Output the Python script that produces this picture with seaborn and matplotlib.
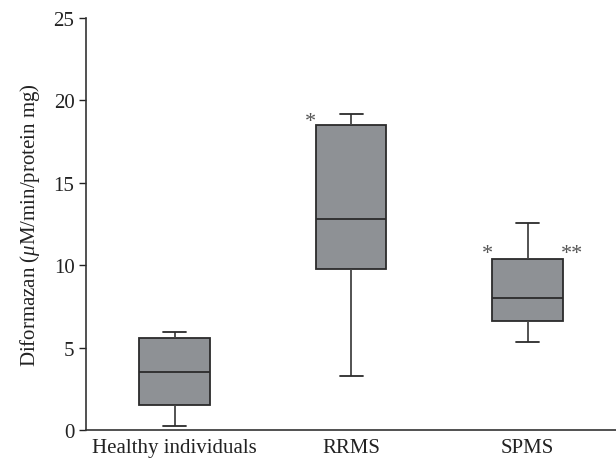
import numpy as np
import pandas as pd
import matplotlib
matplotlib.use('Agg')
import matplotlib.pyplot as plt
import seaborn as sns

# Five-number summaries (whisker low, Q1, median, Q3, whisker high)
groups = ['Healthy individuals', 'RRMS', 'SPMS']
healthy = [0.26, 1.52, 3.5, 5.6, 5.93]
rrms = [3.3, 9.8, 12.8, 18.5, 19.2]
spms = [5.32, 6.6, 8.0, 10.4, 12.56]

# significance marks: (x position, y position, text)
marks = [(0.77, 18.7, '*'), (1.77, 10.7, '*'), (2.25, 10.7, '**')]

df = pd.DataFrame({
    'group': np.repeat(groups, 5),
    'value': healthy + rrms + spms,
})

sns.set_style('ticks')
plt.rcParams['font.family'] = ['Liberation Serif', 'DejaVu Serif']
plt.rcParams['mathtext.fontset'] = 'custom'
plt.rcParams['mathtext.it'] = 'Liberation Serif:italic'
plt.rcParams['mathtext.rm'] = 'Liberation Serif'

fig = plt.figure(figsize=(6.16, 4.64), dpi=100)
ax = fig.add_axes([0.14, 0.071, 0.86, 0.888])

edge = '#2b2b2b'
sns.boxplot(data=df, x='group', y='value', order=groups, ax=ax, width=0.4,
            color='#8e9195', linewidth=1.3, whis=1.5, showfliers=False,
            boxprops=dict(facecolor='#8e9195', edgecolor=edge),
            medianprops=dict(color=edge, linewidth=1.3),
            whiskerprops=dict(color='#444444', linewidth=1.3),
            capprops=dict(color=edge, linewidth=1.3),
            capwidths=0.13)

for x, y, t in marks:
    ax.text(x, y, t, ha='center', va='center', fontsize=16, color='#555555')

ax.set_xlim(-0.5, 2.5)
ax.set_ylim(0, 25)
ax.set_yticks([0, 5, 10, 15, 20, 25])
ax.set_xlabel('')
ax.set_ylabel(r'Diformazan ($\mu$M/min/protein mg)', fontsize=15, color='#222222', labelpad=8)
ax.tick_params(axis='y', labelsize=15, length=5, width=1, colors='#222222')
ax.tick_params(axis='x', labelsize=15, length=0, pad=6, colors='#222222')
for s in ['left', 'bottom']:
    ax.spines[s].set_color('#333333')
    ax.spines[s].set_linewidth(1.2)
sns.despine(ax=ax, top=True, right=True)

fig.savefig('out.png', dpi=100)
